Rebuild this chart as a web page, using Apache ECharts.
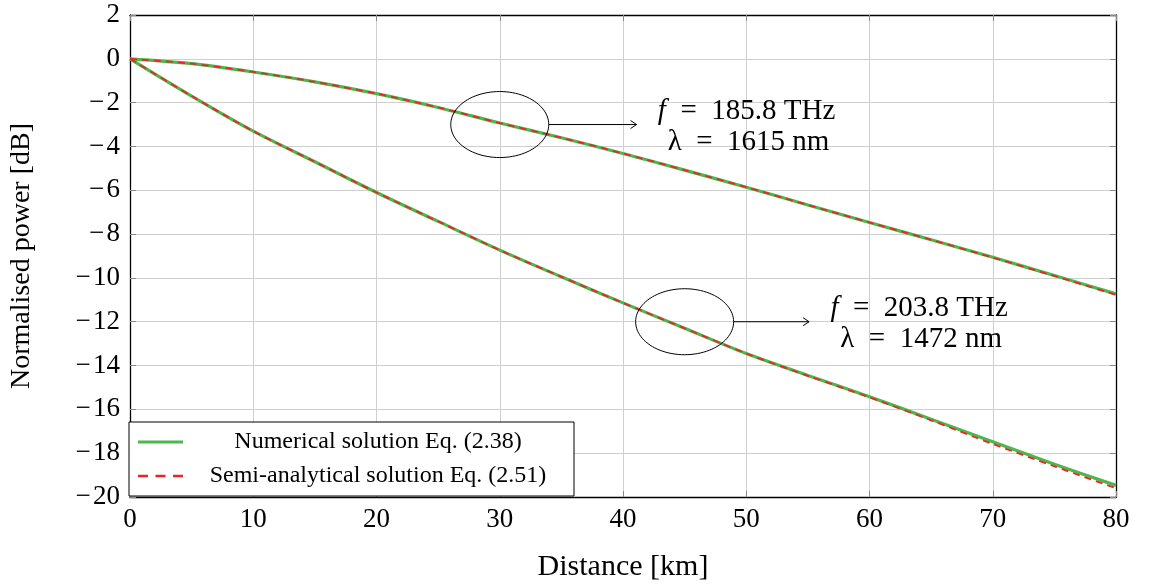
<!DOCTYPE html>
<html>
<head>
<meta charset="utf-8">
<script src="https://cdn.jsdelivr.net/npm/echarts@6/dist/echarts.min.js"></script>
<style>
  html, body { margin: 0; padding: 0; background: #fff; }
  #chart { width: 1152px; height: 588px; }
</style>
</head>
<body>
<div id="chart"></div>
<script>
// Distance along the fibre [km]
const distance = [0, 5, 10, 15, 20, 25, 30, 35, 40, 45, 50, 55, 60, 65, 70, 75, 80];

// Normalised power [dB], f = 185.8 THz
const numHigh  = [0, -0.22, -0.60, -1.05, -1.59, -2.22, -2.93, -3.60, -4.32, -5.08, -5.86, -6.67, -7.47, -8.26, -9.06, -9.89, -10.73];
const semiHigh = [0, -0.22, -0.60, -1.05, -1.59, -2.22, -2.93, -3.60, -4.32, -5.08, -5.86, -6.67, -7.47, -8.26, -9.07, -9.91, -10.77];

// Normalised power [dB], f = 203.8 THz
const numLow  = [0, -1.70, -3.30, -4.70, -6.10, -7.42, -8.73, -9.95, -11.14, -12.30, -13.45, -14.45, -15.42, -16.45, -17.48, -18.50, -19.47];
const semiLow = [0, -1.70, -3.30, -4.70, -6.10, -7.42, -8.73, -9.95, -11.14, -12.30, -13.45, -14.47, -15.45, -16.50, -17.58, -18.60, -19.60];

const seriesNames = ['Numerical solution Eq. (2.38)', 'Semi-analytical solution Eq. (2.51)'];

// Annotated points: ellipse centre [km, dB], arrow tip [km], frequency / wavelength text
const annotCentre   = [[30, -3.0], [45, -12.0]];
const annotArrowEnd = [41.1, 55.1];
const annotFreq     = ['185.8', '203.8'];
const annotLambda   = ['1615', '1472'];

const pair = (xs, ys) => xs.map((x, i) => [x, ys[i]]);
const minus = v => String(v).replace('-', '\u2212\u200a');

const serif = '"Liberation Serif", "DejaVu Serif", serif';
const GREEN = '#4cb84c';
const RED = '#e8262a';

const chart = echarts.init(document.getElementById('chart'), null, { renderer: 'canvas' });

// Ellipse + arrow + two-line label around a data anchor
function annotationItem(params, api) {
  const idx = params.dataIndex;
  const c = api.coord([api.value(0), api.value(1)]);
  const tip = api.coord([annotArrowEnd[idx], api.value(1)])[0];
  const rx = 49, ry = 33;
  const pts = [];
  for (let k = 0; k <= 96; k++) {
    const a = (k / 96) * Math.PI * 2;
    pts.push([c[0] + rx * Math.cos(a), c[1] + ry * Math.sin(a)]);
  }
  const x0 = c[0] + rx;
  const txt = { fontFamily: serif, fontSize: 29, fill: '#000', align: 'center', verticalAlign: 'middle' };
  return {
    type: 'group',
    children: [
      { type: 'polyline', shape: { points: pts }, style: { stroke: '#000', lineWidth: 1, fill: null } },
      { type: 'line', shape: { x1: x0, y1: c[1], x2: tip, y2: c[1] }, style: { stroke: '#000', lineWidth: 1 } },
      { type: 'polyline', shape: { points: [[tip - 6, c[1] - 4], [tip, c[1]], [tip - 6, c[1] + 4]] },
        style: { stroke: '#000', lineWidth: 1, fill: null } },
      { type: 'text', x: tip + 110, y: c[1] - 13,
        style: Object.assign({
          text: '{i|f}\u2002=\u2002' + annotFreq[idx] + ' THz',
          rich: { i: { fontStyle: 'italic', fontFamily: serif, fontSize: 29, fill: '#000' } }
        }, txt) },
      { type: 'text', x: tip + 112, y: c[1] + 18,
        style: Object.assign({ text: '\u03bb\u2002=\u2002' + annotLambda[idx] + ' nm' }, txt) }
    ]
  };
}

const gridLine = { show: true, lineStyle: { color: '#cfcfcf', width: 1 } };
const tickIn = { show: true, inside: true, length: 6, lineStyle: { color: '#888', width: 1 } };
const frameLine = { show: true, onZero: false, lineStyle: { color: '#000', width: 1.3 } };

chart.setOption({
  animation: false,
  backgroundColor: '#fff',
  grid: { left: 128, right: 36, top: 15, bottom: 91, containLabel: false },
  xAxis: [
    {
      type: 'value', min: 0, max: 80, interval: 10,
      name: 'Distance [km]', nameLocation: 'middle', nameGap: 55,
      nameTextStyle: { fontFamily: serif, fontSize: 30, color: '#000' },
      axisLine: frameLine,
      axisTick: tickIn,
      axisLabel: { fontFamily: serif, fontSize: 27, color: '#000', margin: 9 },
      splitLine: gridLine
    },
    {
      type: 'value', position: 'top', min: 0, max: 80, interval: 10,
      axisLine: frameLine,
      axisTick: tickIn, axisLabel: { show: false }, splitLine: { show: false }
    }
  ],
  yAxis: [
    {
      type: 'value', min: -20, max: 2, interval: 2,
      name: 'Normalised power [dB]', nameLocation: 'middle', nameGap: 94, nameRotate: 90,
      nameTextStyle: { fontFamily: serif, fontSize: 28, color: '#000' },
      axisLine: frameLine,
      axisTick: tickIn,
      axisLabel: { fontFamily: serif, fontSize: 27, color: '#000', margin: 10, formatter: minus },
      splitLine: gridLine
    },
    {
      type: 'value', position: 'right', min: -20, max: 2, interval: 2,
      axisLine: frameLine,
      axisTick: tickIn, axisLabel: { show: false }, splitLine: { show: false }
    }
  ],
  legend: {
    left: 129, bottom: 92, orient: 'vertical',
    data: [
      { name: seriesNames[0], icon: 'rect' },
      { name: seriesNames[1], icon: 'path://M0,0h8v2h-8z M14,0h8v2h-8z M28,0h8v2h-8z' }
    ],
    backgroundColor: '#fff', borderColor: '#000', borderWidth: 1, borderRadius: 0,
    padding: [8, 6, 8, 9], itemGap: 10, itemWidth: 45, itemHeight: 3,
    formatter: n => '{c|' + n + '}',
    textStyle: {
      fontFamily: serif, fontSize: 24, color: '#000',
      rich: { c: { width: 380, lineHeight: 25, align: 'center', fontFamily: serif, fontSize: 24, color: '#000' } }
    }
  },
  series: [
    {
      name: seriesNames[0], type: 'line', data: pair(distance, numHigh), smooth: 0.3,
      symbol: 'none', lineStyle: { color: GREEN, width: 3.2 }, itemStyle: { color: GREEN }, z: 2
    },
    {
      name: seriesNames[0], type: 'line', data: pair(distance, numLow), smooth: 0.3,
      symbol: 'none', lineStyle: { color: GREEN, width: 3.2 }, itemStyle: { color: GREEN }, z: 2
    },
    {
      name: seriesNames[1], type: 'line', data: pair(distance, semiHigh), smooth: 0.3,
      symbol: 'none', lineStyle: { color: RED, width: 1.8, type: [7, 5] }, itemStyle: { color: RED }, z: 3
    },
    {
      name: seriesNames[1], type: 'line', data: pair(distance, semiLow), smooth: 0.3,
      symbol: 'none', lineStyle: { color: RED, width: 1.8, type: [7, 5] }, itemStyle: { color: RED }, z: 3
    },
    {
      type: 'custom', data: annotCentre, renderItem: annotationItem, z: 5, silent: true
    }
  ]
});
</script>
</body>
</html>
